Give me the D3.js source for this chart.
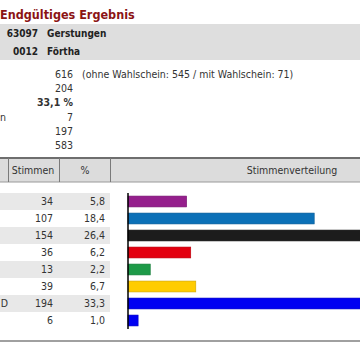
<!DOCTYPE html>
<html><head><meta charset="utf-8">
<script src="https://cdn.jsdelivr.net/npm/d3@7"></script>
<style>
html,body{margin:0;padding:0;background:#fff;overflow:hidden}
svg{display:block}
text{font-family:"DejaVu Sans Condensed","DejaVu Sans",sans-serif;fill:#333}
</style></head><body>
<script>
// ---- data ----
const title = "Endgültiges Ergebnis";
const areaCodes = ["63097", "0012"];
const areaNames = ["Gerstungen", "Förtha"];
const infoLabels = ["", "", "", "n", "", ""];
const infoValues = ["616", "204", "33,1 %", "7", "197", "583"];
const infoNote = "(ohne Wahlschein: 545 / mit Wahlschein: 71)";
const headers = ["Stimmen", "%", "Stimmenverteilung"];
const partyLabels = ["", "", "", "", "", "", "D", ""];
const votes = [34, 107, 154, 36, 13, 39, 194, 6];
const percents = [5.8, 18.4, 26.4, 6.2, 2.2, 6.7, 33.3, 1.0];
const barColors = ["#951f8c", "#0b70b7", "#1c1c1c", "#e3000f", "#1d9a48", "#ffcc00", "#0000f2", "#0000f2"];

const W = 360, H = 360;
const FS = "10.5px";
const svg = d3.select("body").append("svg").attr("width", W).attr("height", H);
const fmt = v => v.toFixed(1).replace(".", ",");

// title
svg.append("text").attr("x", 0).attr("y", 19)
  .style("font-size", "12.5px").style("font-weight", "bold").style("fill", "#8b1414")
  .text(title);

// area band
svg.append("rect").attr("x", 0).attr("y", 24).attr("width", W).attr("height", 36).attr("fill", "#dedede");
const areaY = d3.scaleBand().domain(d3.range(areaCodes.length)).range([24, 60]);
areaCodes.forEach((c, i) => {
  const y = areaY(i) + areaY.bandwidth() / 2 + 4;
  svg.append("text").attr("x", 38).attr("y", y).attr("text-anchor", "end")
    .style("font-size", "10px").style("font-weight", "bold").style("fill", "#222").text(c);
  svg.append("text").attr("x", 47).attr("y", y)
    .style("font-size", "10px").style("font-weight", "bold").style("fill", "#222").text(areaNames[i]);
});

// info rows
const infoY = d3.scaleBand().domain(d3.range(infoValues.length)).range([67, 153]);
infoValues.forEach((v, i) => {
  const y = infoY(i) + infoY.bandwidth() / 2 + 3.5;
  svg.append("text").attr("x", 73).attr("y", y).attr("text-anchor", "end")
    .style("font-size", FS).style("font-weight", i === 2 ? "bold" : "normal").text(v);
  if (infoLabels[i]) svg.append("text").attr("x", 6).attr("y", y).attr("text-anchor", "end")
    .style("font-size", FS).text(infoLabels[i]);
  if (i === 0) svg.append("text").attr("x", 82).attr("y", y).style("font-size", FS).text(infoNote);
});

// header
svg.append("rect").attr("x", 0).attr("y", 158).attr("width", W).attr("height", 24).attr("fill", "#dcdcdc");
svg.append("line").attr("x1", 0).attr("x2", W).attr("y1", 158).attr("y2", 158).attr("stroke", "#6e6e6e").attr("stroke-width", 2);
svg.append("line").attr("x1", 0).attr("x2", W).attr("y1", 182).attr("y2", 182).attr("stroke", "#9a9a9a").attr("stroke-width", 1);
const colEdges = [8.5, 59.5, 110.5];
colEdges.forEach(x => svg.append("line").attr("x1", x).attr("x2", x).attr("y1", 158).attr("y2", 182).attr("stroke", "#7a7a7a"));
const headX = [33, 85, 292];
headers.forEach((h, i) => svg.append("text").attr("x", headX[i]).attr("y", 174).attr("text-anchor", "middle")
  .style("font-size", FS).text(h));

// rows
const rowY = d3.scaleBand().domain(d3.range(votes.length)).range([193, 329]);
const barY = d3.scaleBand().domain(d3.range(votes.length)).range([193, 329]).paddingInner(0.36).paddingOuter(0.18);
const x = d3.scaleLinear().domain([0, d3.max(percents)]).range([128, 465]);

votes.forEach((v, i) => {
  if (i % 2 === 0) svg.append("rect").attr("x", 0).attr("y", rowY(i)).attr("width", 110).attr("height", rowY.bandwidth()).attr("fill", "#e8e8e8");
  const y = rowY(i) + rowY.bandwidth() / 2 + 3.5;
  svg.append("text").attr("x", 53).attr("y", y).attr("text-anchor", "end").style("font-size", FS).text(v);
  svg.append("text").attr("x", 105).attr("y", y).attr("text-anchor", "end").style("font-size", FS).text(fmt(percents[i]));
  if (partyLabels[i]) svg.append("text").attr("x", 8).attr("y", y).attr("text-anchor", "end").style("font-size", FS).text(partyLabels[i]);
});

svg.selectAll("rect.bar").data(percents).join("rect").attr("class", "bar")
  .attr("x", x(0)).attr("y", (d, i) => barY(i)).attr("width", d => x(d) - x(0)).attr("height", barY.bandwidth())
  .attr("fill", (d, i) => barColors[i])
  .attr("stroke", (d, i) => d3.color(barColors[i]).darker(0.6)).attr("stroke-width", 0.6);

svg.append("line").attr("x1", 128).attr("x2", 128).attr("y1", 193).attr("y2", 329).attr("stroke", "#000").attr("stroke-width", 1.5);

// bottom rule
svg.append("line").attr("x1", 0).attr("x2", W).attr("y1", 341).attr("y2", 341).attr("stroke", "#a0a0a0").attr("stroke-width", 2);
</script>
</body></html>
